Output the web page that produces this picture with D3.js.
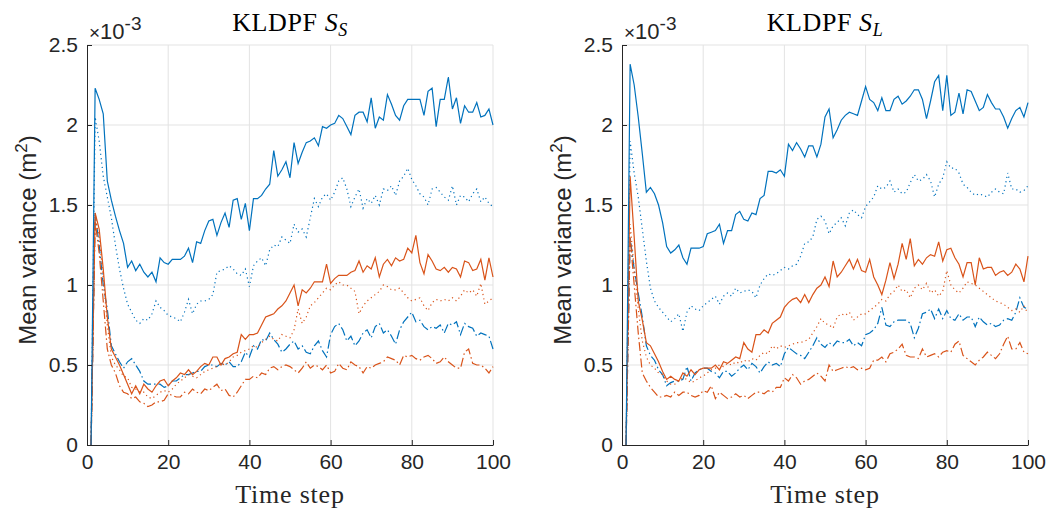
<!DOCTYPE html>
<html>
<head>
<meta charset="utf-8">
<script src="https://cdn.jsdelivr.net/npm/d3@7"></script>
<style>
  body { margin: 0; background: #fff; }
  .tick text { font-family: "Liberation Sans", Arial, sans-serif; font-size: 21px; fill: #262626; }
  .domain, .tick line { stroke: #262626; }
  .grid line { stroke: #e3e3e3; stroke-width: 1; }
</style>
</head>
<body>
<div id="chart"></div>
<script>
const width = 1049;
const height = 509;

// time steps 1..100
const timeSteps = d3.range(1, 101);
const yTicks = [0, 0.5, 1, 1.5, 2, 2.5];
const xTicks = [0, 20, 40, 60, 80, 100];

// KLDPF S_S  (values x 1e-3)
const ssBlueSolid = [0,2.23,2.16,2.07,1.65,1.53,1.43,1.34,1.26,1.11, 1.15,1.09,1.13,1.08,1.05,1.08,1.02,1.17,1.14,1.13, 1.16,1.16,1.16,1.18,1.23,1.14,1.27,1.26,1.34,1.40, 1.41,1.31,1.39,1.45,1.36,1.53,1.54,1.41,1.51,1.34, 1.54,1.54,1.56,1.60,1.63,1.84,1.68,1.72,1.77,1.67, 1.89,1.76,1.83,1.89,1.90,1.92,1.87,1.99,1.98,2.00, 2.01,2.06,2.04,1.99,1.94,2.06,2.08,2.08,2.02,2.17, 1.98,2.05,2.03,2.19,2.13,2.06,2.03,2.12,2.16,2.16, 2.16,2.16,2.06,2.21,2.23,1.99,2.16,2.16,2.30,2.10, 2.17,2.01,2.12,2.08,2.08,2.14,2.05,2.06,2.10,2.00];
const ssBlueDot = [0,2.05,1.90,1.68,1.55,1.42,1.25,1.10,0.98,0.88, 0.83,0.78,0.76,0.79,0.78,0.82,0.90,0.86,0.84,0.81, 0.80,0.79,0.77,0.83,0.91,0.82,0.88,0.90,0.90,0.91, 0.94,1.08,1.09,1.10,1.12,1.10,1.07,1.06,1.10,0.99, 1.12,1.15,1.17,1.12,1.22,1.25,1.24,1.30,1.28,1.26, 1.38,1.33,1.35,1.30,1.42,1.54,1.49,1.55,1.57,1.53, 1.58,1.65,1.67,1.60,1.49,1.55,1.60,1.48,1.54,1.51, 1.56,1.50,1.60,1.59,1.62,1.56,1.65,1.68,1.73,1.66, 1.62,1.57,1.55,1.50,1.60,1.61,1.58,1.55,1.53,1.62, 1.50,1.56,1.55,1.52,1.57,1.60,1.52,1.55,1.51,1.49];
const ssBlueDashDot = [0,1.45,1.25,1.00,0.85,0.62,0.57,0.52,0.48,0.52, 0.54,0.50,0.46,0.40,0.38,0.38,0.38,0.38,0.36,0.37, 0.40,0.40,0.42,0.44,0.44,0.45,0.46,0.46,0.49,0.50, 0.50,0.49,0.51,0.50,0.52,0.49,0.49,0.52,0.58,0.55, 0.62,0.60,0.66,0.65,0.70,0.66,0.63,0.58,0.60,0.63, 0.65,0.60,0.62,0.58,0.57,0.62,0.65,0.59,0.55,0.69, 0.74,0.76,0.72,0.65,0.68,0.62,0.65,0.70,0.72,0.67, 0.74,0.76,0.70,0.72,0.68,0.63,0.72,0.77,0.80,0.83, 0.77,0.78,0.74,0.72,0.74,0.73,0.75,0.70,0.76,0.75, 0.77,0.69,0.76,0.74,0.73,0.68,0.70,0.69,0.68,0.60];
const ssOrangeSolid = [0,1.45,1.35,1.10,0.80,0.60,0.55,0.50,0.44,0.38, 0.32,0.37,0.32,0.38,0.35,0.33,0.37,0.40,0.41,0.37, 0.40,0.42,0.45,0.44,0.47,0.44,0.46,0.49,0.51,0.50, 0.55,0.55,0.50,0.54,0.55,0.57,0.58,0.69,0.66,0.69, 0.69,0.70,0.75,0.80,0.81,0.82,0.85,0.87,0.90,0.95, 1.00,0.87,0.97,0.95,0.98,1.02,1.02,1.02,1.13,1.01, 1.04,1.06,1.06,1.06,1.08,1.09,1.15,1.08,1.12,1.10, 1.17,1.05,1.13,1.16,1.12,1.17,1.15,1.16,1.23,1.20, 1.31,1.14,1.07,1.19,1.15,1.10,1.09,1.11,1.08,1.11, 1.10,1.05,1.15,1.14,1.09,1.10,1.16,1.03,1.17,1.05];
const ssOrangeDot = [0,1.42,1.30,1.05,0.75,0.55,0.50,0.47,0.43,0.42, 0.36,0.35,0.33,0.33,0.30,0.29,0.31,0.33,0.34,0.33, 0.35,0.38,0.40,0.42,0.44,0.43,0.42,0.44,0.46,0.47, 0.48,0.49,0.51,0.50,0.52,0.55,0.56,0.58,0.59,0.60, 0.62,0.61,0.64,0.66,0.68,0.66,0.65,0.69,0.68,0.67, 0.72,0.85,0.76,0.80,0.87,0.89,0.92,0.95,0.98,0.97, 1.00,1.02,1.00,1.00,0.98,0.96,0.82,0.87,0.90,0.92, 0.94,0.96,1.00,0.99,0.97,0.97,0.98,0.95,0.92,0.90, 0.91,0.92,0.87,0.84,0.89,0.91,0.90,0.91,0.90,0.92, 0.90,0.93,0.97,0.95,0.97,0.93,1.01,0.88,0.90,0.92];
const ssOrangeDashDot = [0,1.40,1.20,0.90,0.60,0.50,0.45,0.37,0.33,0.32, 0.29,0.30,0.27,0.26,0.24,0.25,0.27,0.27,0.28,0.32, 0.31,0.30,0.30,0.33,0.32,0.35,0.33,0.32,0.35,0.34, 0.36,0.38,0.34,0.35,0.31,0.30,0.33,0.37,0.41,0.41, 0.43,0.42,0.45,0.44,0.48,0.49,0.47,0.49,0.50,0.49, 0.47,0.45,0.48,0.52,0.48,0.50,0.49,0.47,0.50,0.45, 0.46,0.51,0.48,0.47,0.52,0.50,0.49,0.45,0.49,0.48, 0.50,0.51,0.52,0.55,0.54,0.53,0.50,0.56,0.55,0.56, 0.54,0.53,0.55,0.56,0.54,0.51,0.52,0.55,0.52,0.50, 0.48,0.48,0.58,0.60,0.51,0.50,0.50,0.48,0.45,0.49];

// KLDPF S_L
const slBlueSolid = [0,2.38,2.25,2.05,1.82,1.58,1.61,1.57,1.50,1.39, 1.24,1.20,1.22,1.25,1.17,1.13,1.23,1.23,1.23,1.24, 1.32,1.33,1.34,1.38,1.26,1.34,1.34,1.44,1.46,1.41, 1.40,1.45,1.44,1.54,1.56,1.71,1.71,1.70,1.72,1.68, 1.88,1.84,1.89,1.85,1.80,1.87,1.87,1.80,1.88,2.05, 2.10,1.92,1.97,2.03,2.06,2.08,2.07,2.06,2.15,2.24, 2.16,2.14,2.09,2.17,2.09,2.09,2.16,2.18,2.13,2.15, 2.18,2.22,2.22,2.16,2.04,2.15,2.27,2.31,2.09,2.31, 2.06,2.08,2.20,2.07,2.22,2.21,2.15,2.09,2.11,2.19, 2.14,2.10,2.10,2.05,1.98,2.04,2.09,2.11,2.05,2.14];
const slBlueDot = [0,1.90,1.70,1.55,1.35,1.15,0.98,0.90,0.86,0.83, 0.80,0.77,0.79,0.82,0.71,0.83,0.87,0.85,0.84,0.87, 0.89,0.91,0.93,0.88,0.93,0.95,0.93,0.98,0.95,0.96, 0.97,0.96,0.92,1.00,1.04,1.07,1.06,1.07,1.09,1.11, 1.10,1.12,1.13,1.18,1.26,1.27,1.30,1.41,1.43,1.40, 1.32,1.37,1.39,1.42,1.37,1.45,1.47,1.44,1.42,1.49, 1.52,1.55,1.62,1.60,1.61,1.65,1.58,1.60,1.57,1.58, 1.64,1.69,1.65,1.66,1.69,1.65,1.55,1.63,1.67,1.77, 1.73,1.73,1.70,1.63,1.61,1.58,1.56,1.57,1.56,1.55, 1.58,1.60,1.58,1.57,1.70,1.60,1.60,1.58,1.59,1.62];
const slBlueDashDot = [0,1.30,1.10,0.95,0.80,0.62,0.56,0.53,0.47,0.44, 0.37,0.39,0.40,0.40,0.41,0.49,0.40,0.45,0.47,0.48, 0.48,0.46,0.45,0.42,0.46,0.46,0.43,0.45,0.48,0.50, 0.47,0.51,0.49,0.45,0.49,0.52,0.50,0.51,0.49,0.57, 0.61,0.59,0.57,0.56,0.54,0.58,0.62,0.67,0.63,0.61, 0.64,0.62,0.65,0.64,0.64,0.66,0.62,0.64,0.62,0.69, 0.70,0.72,0.76,0.86,0.75,0.74,0.77,0.78,0.78,0.78, 0.76,0.67,0.73,0.82,0.83,0.85,0.79,0.85,0.79,0.84, 0.79,0.78,0.82,0.78,0.80,0.80,0.74,0.80,0.77,0.75, 0.76,0.74,0.75,0.78,0.79,0.78,0.83,0.92,0.86,0.85];
const slOrangeSolid = [0,1.68,1.30,0.90,0.78,0.64,0.62,0.57,0.52,0.46, 0.41,0.43,0.41,0.40,0.45,0.43,0.47,0.44,0.47,0.48, 0.48,0.48,0.50,0.47,0.52,0.51,0.53,0.55,0.54,0.64, 0.60,0.58,0.69,0.69,0.72,0.70,0.76,0.78,0.80,0.86, 0.89,0.91,0.92,0.89,0.94,0.89,0.94,0.98,1.00,1.05, 0.99,1.15,1.05,1.08,1.12,1.16,1.10,1.16,1.09,1.08, 1.16,1.05,1.00,0.94,1.03,1.14,1.04,1.13,1.26,1.16, 1.29,1.12,1.16,1.13,1.17,1.19,1.18,1.27,1.15,1.22, 1.23,1.17,1.13,1.05,1.14,1.14,1.00,1.17,1.10,1.11, 1.11,1.06,1.08,1.09,1.06,1.08,1.13,1.10,1.02,1.18];
const slOrangeDot = [0,1.38,1.10,0.85,0.65,0.55,0.50,0.48,0.45,0.44, 0.40,0.38,0.38,0.40,0.42,0.41,0.39,0.40,0.42,0.43, 0.45,0.47,0.48,0.50,0.49,0.51,0.50,0.52,0.51,0.53, 0.52,0.54,0.53,0.56,0.58,0.57,0.62,0.60,0.62,0.61, 0.62,0.63,0.64,0.64,0.65,0.66,0.70,0.74,0.79,0.76, 0.75,0.73,0.80,0.82,0.81,0.83,0.78,0.80,0.82,0.82, 0.84,0.86,0.88,0.91,0.90,0.94,0.96,1.00,0.96,0.97, 0.92,0.98,1.00,0.97,1.01,0.95,0.97,0.93,0.96,1.09, 1.00,0.97,0.95,0.98,1.02,1.01,1.00,0.98,0.96,0.94, 0.92,0.90,0.89,0.88,0.86,0.84,0.85,0.83,0.87,0.82];
const slOrangeDashDot = [0,1.30,1.00,0.70,0.45,0.40,0.36,0.33,0.30,0.30, 0.31,0.30,0.33,0.31,0.33,0.33,0.31,0.30,0.31,0.34, 0.33,0.37,0.29,0.33,0.31,0.29,0.30,0.32,0.30,0.31, 0.29,0.31,0.33,0.33,0.32,0.34,0.33,0.36,0.36,0.42, 0.40,0.44,0.42,0.38,0.40,0.41,0.43,0.45,0.43,0.40, 0.50,0.46,0.47,0.48,0.49,0.48,0.49,0.47,0.48,0.47, 0.48,0.53,0.53,0.55,0.52,0.57,0.58,0.60,0.63,0.56, 0.55,0.55,0.54,0.60,0.55,0.56,0.57,0.55,0.58,0.59, 0.58,0.63,0.65,0.56,0.54,0.52,0.50,0.53,0.55,0.58, 0.56,0.54,0.57,0.63,0.68,0.60,0.60,0.64,0.58,0.57];

const BLUE = "#0072BD";
const ORANGE = "#D95319";
const dashes = { solid: null, dot: "1.2,3.2", dashdot: "9,3,1.5,3" };

const panels = [
  { sub: "S", left: 87, series: [
    { values: ssBlueDot, color: BLUE, dash: "dot" },
    { values: ssBlueDashDot, color: BLUE, dash: "dashdot" },
    { values: ssOrangeDot, color: ORANGE, dash: "dot" },
    { values: ssOrangeDashDot, color: ORANGE, dash: "dashdot" },
    { values: ssOrangeSolid, color: ORANGE, dash: "solid" },
    { values: ssBlueSolid, color: BLUE, dash: "solid" }
  ]},
  { sub: "L", left: 622, series: [
    { values: slBlueDot, color: BLUE, dash: "dot" },
    { values: slBlueDashDot, color: BLUE, dash: "dashdot" },
    { values: slOrangeDot, color: ORANGE, dash: "dot" },
    { values: slOrangeDashDot, color: ORANGE, dash: "dashdot" },
    { values: slOrangeSolid, color: ORANGE, dash: "solid" },
    { values: slBlueSolid, color: BLUE, dash: "solid" }
  ]}
];

const plotW = 406;
const plotH = 400;
const plotTop = 45;

const svg = d3.select("#chart")
  .append("svg")
  .attr("width", width)
  .attr("height", height);

panels.forEach((p) => drawPanel(p));

function drawPanel(p) {
  const g = svg.append("g").attr("transform", `translate(${p.left},${plotTop})`);

  const x = d3.scaleLinear().domain([0, 100]).range([0, plotW]);
  const y = d3.scaleLinear().domain([0, 2.5]).range([plotH, 0]);

  // grid
  const grid = g.append("g").attr("class", "grid");
  grid.selectAll(".gx").data(xTicks.slice(1)).enter().append("line")
    .attr("x1", (d) => x(d)).attr("x2", (d) => x(d))
    .attr("y1", 0).attr("y2", plotH);
  grid.selectAll(".gy").data(yTicks.slice(1)).enter().append("line")
    .attr("x1", 0).attr("x2", plotW)
    .attr("y1", (d) => y(d)).attr("y2", (d) => y(d));

  const line = d3.line()
    .x((d, i) => x(timeSteps[i]))
    .y((d) => y(d));

  g.append("g").selectAll("path")
    .data(p.series)
    .enter()
    .append("path")
    .attr("d", (s) => line(s.values))
    .attr("fill", "none")
    .attr("stroke", (s) => s.color)
    .attr("stroke-width", 1.2)
    .attr("stroke-dasharray", (s) => dashes[s.dash]);

  g.append("g")
    .attr("transform", `translate(0,${plotH})`)
    .call(d3.axisBottom(x).tickValues(xTicks).tickSizeInner(-5).tickSizeOuter(0).tickPadding(9));

  g.append("g")
    .call(d3.axisLeft(y).tickValues(yTicks).tickFormat((d) => d).tickSizeInner(-5).tickSizeOuter(0).tickPadding(9));

  // exponent label
  const ex = g.append("text")
    .attr("x", 2).attr("y", -6)
    .attr("font-family", "Liberation Sans, Arial, sans-serif")
    .attr("font-size", 22)
    .attr("fill", "#262626");
  ex.append("tspan").attr("font-size", 19).text("\u00d7");
  ex.append("tspan").text("10");
  ex.append("tspan").attr("font-size", 19).attr("dy", -9).text("-3");

  // title
  const t = g.append("text")
    .attr("x", plotW / 2).attr("y", -14)
    .attr("text-anchor", "middle")
    .attr("font-family", "Liberation Serif, Times New Roman, serif")
    .attr("font-size", 26)
    .attr("letter-spacing", 0.6)
    .attr("fill", "#000");
  t.append("tspan").text("KLDPF ");
  t.append("tspan").attr("font-style", "italic").text("S");
  t.append("tspan").attr("font-style", "italic").attr("font-size", 18).attr("dy", 5).text(p.sub);

  // x label
  g.append("text")
    .attr("x", plotW / 2).attr("y", plotH + 58)
    .attr("text-anchor", "middle")
    .attr("font-family", "Liberation Serif, Times New Roman, serif")
    .attr("font-size", 26)
    .attr("letter-spacing", 0.8)
    .attr("fill", "#262626")
    .text("Time step");

  // y label
  const yl = g.append("text")
    .attr("transform", `translate(-51,${plotH / 2 - 5}) rotate(-90)`)
    .attr("text-anchor", "middle")
    .attr("font-family", "Liberation Sans, Arial, sans-serif")
    .attr("font-size", 24)
    .attr("fill", "#262626");
  yl.append("tspan").text("Mean variance (m");
  yl.append("tspan").attr("font-size", 17).attr("dy", -9).text("2");
  yl.append("tspan").attr("dy", 9).text(")");
}
</script>
</body>
</html>
